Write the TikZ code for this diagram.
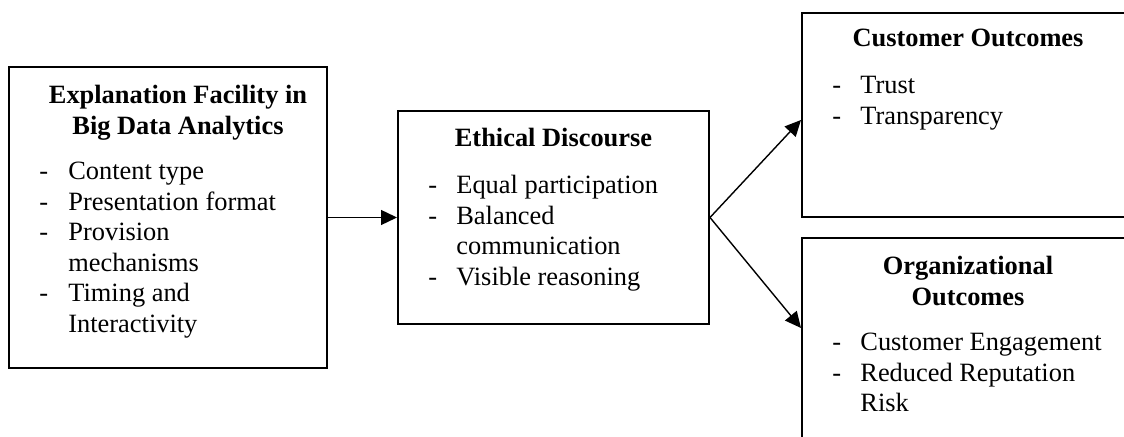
\documentclass[tikz,border=0pt]{standalone}
\usepackage{fontspec}
\setmainfont{Liberation Serif}
\usetikzlibrary{arrows.meta}
\newcommand{\dsh}[1][14pt]{\makebox[#1][l]{-}}
\tikzset{
  box/.style={draw=black, line width=1pt, inner sep=0pt},
  ttl/.style={anchor=base, inner sep=0pt, font=\fontsize{13.2}{15.2}\selectfont\bfseries},
  lst/.style={anchor=base west, inner sep=0pt, font=\fontsize{13.2}{15.25}\selectfont},
  conn/.style={line width=0.7pt, -{Triangle[length=8pt,width=7.5pt]}},
}
\begin{document}
\begin{tikzpicture}[x=0.5pt,y=-0.5pt]
\path[use as bounding box, fill=white] (0,0) rectangle (1124,437);
% boxes
\node[box, minimum width=159pt, minimum height=150.5pt] (A) at (168,217.5) {};
\node[box, minimum width=155.5pt, minimum height=106.5pt] (B) at (553.5,217.5) {};
\node[box, minimum width=174pt, minimum height=102pt] (C) at (976,115) {};
\node[box, minimum width=174pt, minimum height=116pt] (D) at (976,354) {};
% titles
\node[ttl] (At) at (178,104) {\begin{tabular}[t]{@{}c@{}}Explanation Facility in\\ Big Data Analytics\end{tabular}};
\node[ttl] (Bt) at (553.5,146.5) {Ethical Discourse};
\node[ttl] (Ct) at (968,46.5) {Customer Outcomes};
\node[ttl] (Dt) at (968,275) {\begin{tabular}[t]{@{}c@{}}Organizational\\ Outcomes\end{tabular}};
% lists
\node[lst] (Al) at (39,180) {\begin{tabular}[t]{@{}l@{}l@{}}
\dsh[14.5pt] & Content type\\
\dsh[14.5pt] & Presentation format\\
\dsh[14.5pt] & Provision\\
 & mechanisms\\
\dsh[14.5pt] & Timing and\\
 & Interactivity
\end{tabular}};
\node[lst] (Bl) at (428,194) {\begin{tabular}[t]{@{}l@{}l@{}}
\dsh & Equal participation\\
\dsh & Balanced\\
 & communication\\
\dsh & Visible reasoning
\end{tabular}};
\node[lst] (Cl) at (832,94) {\begin{tabular}[t]{@{}l@{}l@{}}
\dsh & Trust\\
\dsh & Transparency
\end{tabular}};
\node[lst] (Dl) at (832,350.7) {\begin{tabular}[t]{@{}l@{}l@{}}
\dsh & Customer Engagement\\
\dsh & Reduced Reputation\\
 & Risk
\end{tabular}};
% connectors
\draw[conn] (A.east) -- (B.west);
\draw[conn] (B.east) -- ([yshift=-2.5pt]C.west);
\draw[conn] (B.east) -- ([yshift=13pt]D.west);
\end{tikzpicture}
\end{document}
